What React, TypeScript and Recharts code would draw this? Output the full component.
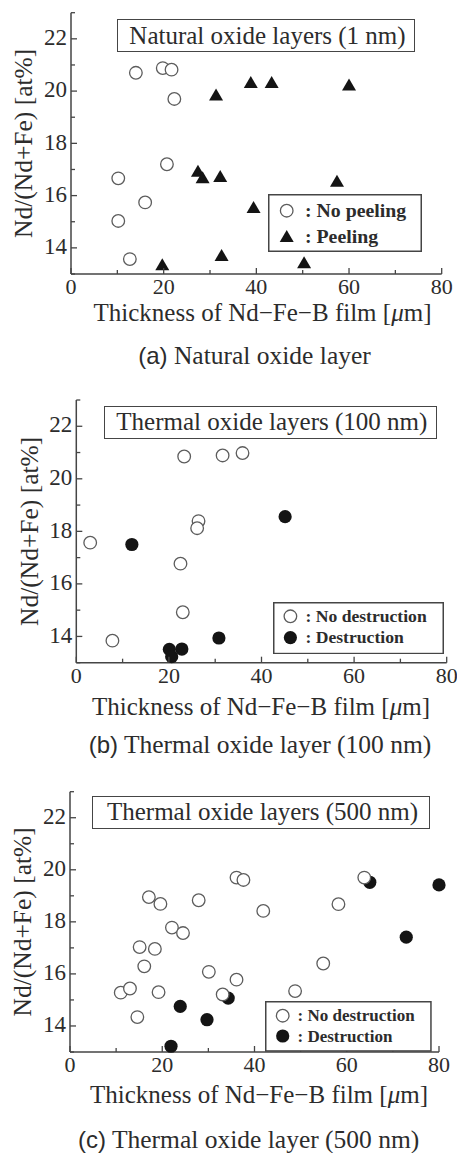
import { ScatterChart, Scatter, XAxis, YAxis, Legend } from 'recharts'

const AXIS = '#454545'
const INK = '#2c2c2c'
const SERIF = '"Liberation Serif", "Times New Roman", serif'
const SANS = '"Liberation Sans", Arial, sans-serif'

const xTicks = [0, 10, 20, 30, 40, 50, 60, 70, 80]
const yTicks = [13, 14, 15, 16, 17, 18, 19, 20, 21, 22, 23]

type Pt = [number, number]

// [thickness (um), Nd/(Nd+Fe) (at%)]
const naturalNoPeeling: Pt[] = [
  [14.0, 20.7], [19.8, 20.88], [21.7, 20.82], [22.3, 19.7], [20.7, 17.2],
  [10.2, 16.66], [16.0, 15.74], [10.2, 15.03], [12.7, 13.57],
]
const naturalPeeling: Pt[] = [
  [31.3, 19.87], [38.8, 20.35], [43.3, 20.35], [60.0, 20.25], [27.4, 16.95],
  [28.4, 16.7], [32.2, 16.75], [57.4, 16.57], [39.4, 15.56], [32.5, 13.73],
  [19.7, 13.37], [50.3, 13.45],
]

const thermal100Intact: Pt[] = [
  [23.3, 20.85], [31.6, 20.89], [35.9, 20.98], [26.4, 18.39], [26.1, 18.12],
  [3.0, 17.57], [22.5, 16.77], [23.0, 14.92], [7.8, 13.84],
]
const thermal100Destroyed: Pt[] = [
  [45.1, 18.56], [12.0, 17.5], [30.8, 13.94], [20.1, 13.51], [22.8, 13.52], [20.6, 13.23],
]

const thermal500Intact: Pt[] = [
  [11.0, 15.28], [13.0, 15.44], [14.6, 14.34], [15.1, 17.03], [16.1, 16.29],
  [17.1, 18.95], [18.4, 16.96], [19.6, 18.69], [19.2, 15.3], [22.1, 17.78],
  [24.5, 17.57], [27.9, 18.83], [30.1, 16.08], [33.1, 15.21], [36.1, 19.7],
  [37.6, 19.61], [36.1, 15.78], [41.9, 18.42], [48.8, 15.34], [54.9, 16.4],
  [58.2, 18.68], [63.8, 19.7],
]
const thermal500Destroyed: Pt[] = [
  [65.0, 19.52], [80.0, 19.42], [72.9, 17.41], [23.9, 14.75], [34.3, 15.07],
  [29.7, 14.24], [21.9, 13.22],
]

const toData = (pts: Pt[]) => pts.map(([x, y]) => ({ x, y }))

type Marker = 'open' | 'filled' | 'triangle'

const OpenDot = ({ cx, cy }: any) => (
  <circle cx={cx} cy={cy} r={6.3} fill="#fff" stroke="#5c5c5c" strokeWidth={1.3} />
)
const FilledDot = ({ cx, cy }: any) => <circle cx={cx} cy={cy} r={6.6} fill="#141414" />
const TriangleMark = ({ cx, cy }: any) => (
  <path d={`M${cx},${cy - 6} L${cx + 7},${cy + 6} L${cx - 7},${cy + 6} Z`} fill="#141414" />
)
const shapes = { open: OpenDot, filled: FilledDot, triangle: TriangleMark }

interface Panel {
  top: number
  height: number
  plot: { left: number; right: number; top: number; bottom: number }
  tickDy: number
  title: string
  titleBox: { left: number; top: number; width: number; height: number }
  tag: string
  caption: string
  captionX: number
  captionY: number
  xTitleX: number
  xTitleY: number
  legend: {
    left: number; top: number; width: number; height: number
    markerX: number; textX: number; rows: number[]; fontSize: number
  }
  series: { name: string; data: Pt[]; marker: Marker }[]
}

const panels: Panel[] = [
  {
    top: 0, height: 372,
    plot: { left: 71, right: 441.7, top: 12.7, bottom: 274 },
    tickDy: 19.5,
    title: 'Natural oxide layers (1 nm)',
    titleBox: { left: 117, top: 19, width: 298, height: 33 },
    tag: '(a)', caption: 'Natural oxide layer', captionX: 254.5, captionY: 364,
    xTitleX: 262.5, xTitleY: 320.5,
    legend: { left: 268, top: 194, width: 154, height: 58, markerX: 18.7, textX: 37, rows: [16.7, 42], fontSize: 19.8 },
    series: [
      { name: 'No peeling', data: naturalNoPeeling, marker: 'open' },
      { name: 'Peeling', data: naturalPeeling, marker: 'triangle' },
    ],
  },
  {
    top: 380, height: 381,
    plot: { left: 76.3, right: 446.7, top: 400, bottom: 662.7 },
    tickDy: 20,
    title: 'Thermal oxide layers (100 nm)',
    titleBox: { left: 104, top: 405.7, width: 332.7, height: 33.6 },
    tag: '(b)', caption: 'Thermal oxide layer (100 nm)', captionX: 260, captionY: 753,
    xTitleX: 261, xTitleY: 715,
    legend: { left: 273.3, top: 601.7, width: 171, height: 52.3, markerX: 17.4, textX: 32.5, rows: [14.3, 35.6], fontSize: 17.6 },
    series: [
      { name: 'Destruction', data: thermal100Destroyed, marker: 'filled' },
      { name: 'No destruction', data: thermal100Intact, marker: 'open' },
    ],
  },
  {
    top: 770, height: 383,
    plot: { left: 70, right: 439, top: 791.7, bottom: 1052 },
    tickDy: 20,
    title: 'Thermal oxide layers (500 nm)',
    titleBox: { left: 92, top: 795.7, width: 338, height: 33.6 },
    tag: '(c)', caption: 'Thermal oxide layer (500 nm)', captionX: 248.7, captionY: 1148,
    xTitleX: 259, xTitleY: 1103,
    legend: { left: 265, top: 1001, width: 166.7, height: 50.7, markerX: 17.7, textX: 32.5, rows: [14.7, 35], fontSize: 17 },
    series: [
      { name: 'Destruction', data: thermal500Destroyed, marker: 'filled' },
      { name: 'No destruction', data: thermal500Intact, marker: 'open' },
    ],
  },
]

const tickStroke = { stroke: AXIS, strokeWidth: 1.3 }
const serifStyle = { fontFamily: SERIF }

const BottomTick = ({ x, y, payload, dy }: any) => {
  const major = payload.value % 20 === 0
  return (
    <g>
      <line x1={x} x2={x} y1={y} y2={y - (major ? 6 : 4)} {...tickStroke} />
      {major && (
        <text x={x} y={y + dy} textAnchor="middle" fontSize={22} style={serifStyle} fill={INK}>
          {payload.value}
        </text>
      )}
    </g>
  )
}
const TopTick = ({ x, y, payload }: any) => (
  <line x1={x} x2={x} y1={y} y2={y + (payload.value % 20 === 0 ? 6 : 4)} {...tickStroke} />
)
const LeftTick = ({ x, y, payload }: any) => {
  const major = payload.value % 2 === 0
  return (
    <g>
      <line x1={x} x2={x + (major ? 6 : 4)} y1={y} y2={y} {...tickStroke} />
      {major && payload.value < 23 && (
        <text x={x - 4} y={y} dy="0.27em" textAnchor="end" fontSize={23} style={serifStyle} fill={INK}>
          {payload.value}
        </text>
      )}
    </g>
  )
}
const RightTick = ({ x, y, payload }: any) => (
  <line x1={x} x2={x - (payload.value % 2 === 0 ? 6 : 4)} y1={y} y2={y} {...tickStroke} />
)

const BottomTexts = ({ p }: { p: Panel }) => (
  <g fill={INK} fontSize={25}>
    <text x={p.xTitleX} y={p.xTitleY - p.top} textAnchor="middle" style={serifStyle}>
      Thickness of Nd−Fe−B film [<tspan fontStyle="italic">μ</tspan>m]
    </text>
    <text x={p.captionX} y={p.captionY - p.top} textAnchor="middle" fontSize={25.5} style={serifStyle}>
      <tspan fontSize={24} style={{ fontFamily: SANS }}>{p.tag}</tspan>
      <tspan>{' ' + p.caption}</tspan>
    </text>
  </g>
)

const YTitle = ({ p }: { p: Panel }) => {
  const cx = p.plot.left - 47
  const cy = (p.plot.top + p.plot.bottom) / 2 - p.top
  return (
    <text
      x={cx} y={cy} dy="0.33em" textAnchor="middle" fontSize={25.5} style={serifStyle} fill={INK}
      transform={`rotate(-90 ${cx} ${cy})`}
    >
      Nd/(Nd+Fe) [at%]
    </text>
  )
}

const LegendBox = ({ p }: { p: Panel }) => {
  const lg = p.legend
  return (
    <svg width={lg.width} height={lg.height} style={{ display: 'block' }}>
      <rect x={0.75} y={0.75} width={lg.width - 1.5} height={lg.height - 1.5} fill="#fff" stroke={AXIS} strokeWidth={1.5} />
      {p.series
        .slice()
        .sort((a) => (a.marker === 'open' ? -1 : 1))
        .map((s, i) => {
          const Shape = shapes[s.marker]
          const cy = lg.rows[i]
          return (
            <g key={s.name}>
              <Shape cx={lg.markerX} cy={cy} />
              <text x={lg.textX} y={cy} dy="0.33em" fontSize={lg.fontSize} fontWeight="bold" style={serifStyle} fill={INK}>
                {': ' + s.name}
              </text>
            </g>
          )
        })}
    </svg>
  )
}

function PanelChart({ p }: { p: Panel }) {
  const { plot } = p
  return (
    <div style={{ position: 'absolute', left: 0, top: p.top }}>
      <ScatterChart
        width={457}
        height={p.height}
        margin={{ top: plot.top - p.top, right: 457 - plot.right, left: 0, bottom: 0 }}
      >
        <XAxis
          xAxisId="b" dataKey="x" type="number" domain={[0, 80]} ticks={xTicks} interval={0}
          height={p.top + p.height - plot.bottom}
          tickSize={0} tickMargin={0} tickLine={false}
          axisLine={{ stroke: AXIS, strokeWidth: 1.5 }}
          tick={(t: any) => <BottomTick {...t} dy={p.tickDy} />}
          label={<BottomTexts p={p} />}
        />
        <XAxis
          xAxisId="t" orientation="top" type="number" domain={[0, 80]} ticks={xTicks} interval={0}
          height={0} tickSize={0} tickMargin={0} tickLine={false}
          axisLine={{ stroke: AXIS, strokeWidth: 1.5 }} tick={<TopTick />}
        />
        <YAxis
          yAxisId="l" dataKey="y" type="number" domain={[13, 23]} ticks={yTicks} interval={0}
          width={plot.left} tickSize={0} tickMargin={0} tickLine={false}
          axisLine={{ stroke: AXIS, strokeWidth: 1.5 }} tick={<LeftTick />}
          label={<YTitle p={p} />}
        />
        <YAxis
          yAxisId="r" orientation="right" type="number" domain={[13, 23]} ticks={yTicks} interval={0}
          width={0} tickSize={0} tickMargin={0} tickLine={false}
          axisLine={{ stroke: AXIS, strokeWidth: 1.5 }} tick={<RightTick />}
        />
        {p.series.map((s) => (
          <Scatter
            key={s.name} name={s.name} xAxisId="b" yAxisId="l"
            data={toData(s.data)} shape={shapes[s.marker]} isAnimationActive={false}
          />
        ))}
        <Legend
          layout="vertical" align="center" verticalAlign="middle"
          wrapperStyle={{ left: p.legend.left, top: p.legend.top - p.top, width: p.legend.width, height: p.legend.height }}
          content={() => <LegendBox p={p} />}
        />
      </ScatterChart>
      <div
        style={{
          position: 'absolute', left: p.titleBox.left, top: p.titleBox.top - p.top,
          width: p.titleBox.width, height: p.titleBox.height, boxSizing: 'border-box',
          border: `1.6px solid ${AXIS}`, background: '#fff', display: 'flex',
          alignItems: 'center', justifyContent: 'center', paddingLeft: 3,
          fontFamily: SERIF, fontSize: 25, color: INK, whiteSpace: 'nowrap',
        }}
      >
        {p.title}
      </div>
    </div>
  )
}

export default function App() {
  return (
    <div style={{ position: 'absolute', left: 0, top: 0, width: 457, height: 1153, background: '#fff' }}>
      {panels.map((p) => (
        <PanelChart key={p.tag} p={p} />
      ))}
    </div>
  )
}
